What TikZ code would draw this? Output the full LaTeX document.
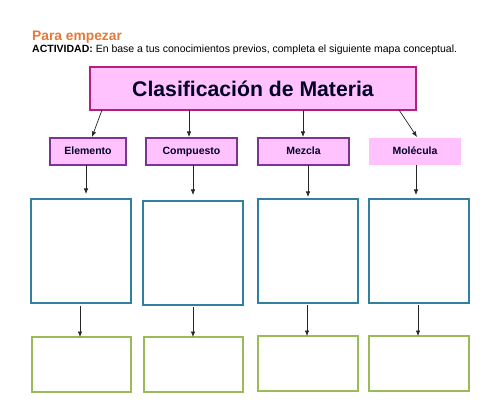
\documentclass[tikz,border=0pt]{standalone}
\usepackage{fontspec}
\setmainfont{Liberation Sans}
\usetikzlibrary{arrows.meta}
\definecolor{orangeT}{HTML}{E07B39}
\definecolor{pinkF}{HTML}{FFC2FF}
\definecolor{magB}{HTML}{B3207F}
\definecolor{purB}{HTML}{7A3494}
\definecolor{blueB}{HTML}{31809F}
\definecolor{greenB}{HTML}{9BBB59}
\tikzset{
  mainbox/.style={draw=magB, fill=pinkF, line width=2pt},
  catbox/.style={draw=purB, fill=pinkF, line width=1.6pt},
  catnob/.style={fill=pinkF},
  bluebox/.style={draw=blueB, line width=2pt},
  greenbox/.style={draw=greenB, line width=2.2pt},
  arr/.style={-{Latex[length=5.5pt,width=4.5pt]}, line width=0.7pt, black!85},
  lbl/.style={font=\bfseries\fontsize{10.5}{12}\selectfont, text=black!85!blue, text height=7.5pt, text depth=2pt},
}
\begin{document}
\begin{tikzpicture}[x=1pt,y=-1pt]
\useasboundingbox (0,0) rectangle (500,419);
\node[anchor=base west, inner sep=0, text=orangeT, font=\bfseries\fontsize{13.8}{15}\selectfont] (t1) at (32,41) {Para empezar};
\node[anchor=base west, inner sep=0, font=\fontsize{10.5}{12}\selectfont] (t2) at (32,53) {\textbf{ACTIVIDAD:} En base a tus conocimientos previos, completa el siguiente mapa conceptual.};
% main box
\path[mainbox] (90,67) rectangle (416,110);
\node[font=\bfseries\fontsize{21.2}{24}\selectfont, text=black!85!blue] (main) at (253,89) {Clasificación de Materia};
\coordinate (m1) at (102,110);
\coordinate (m2) at (189,110);
\coordinate (m3) at (303,110);
\coordinate (m4) at (399,110);
% category boxes
\path[catbox] (50,138) rectangle (126,165);
\path[catbox] (146,138) rectangle (237,165);
\path[catbox] (258,138) rectangle (349,165);
\path[catnob] (369,138) rectangle (461,165);
\node[lbl] (c1) at (88,152) {Elemento};
\node[lbl] (c2) at (191.5,152) {Compuesto};
\node[lbl] (c3) at (303.5,152) {Mezcla};
\node[lbl] (c4) at (415,152) {Molécula};
\coordinate (c1t) at (92,137);
\coordinate (c2t) at (189,137);
\coordinate (c3t) at (303,137);
\coordinate (c4t) at (417,137);
\draw[arr] (m1) -- (c1t);
\draw[arr] (m2) -- (c2t);
\draw[arr] (m3) -- (c3t);
\draw[arr] (m4) -- (c4t);
% blue boxes
\path[bluebox] (31,199) rectangle (131,303);
\path[bluebox] (143,201) rectangle (243,305);
\path[bluebox] (258,199) rectangle (358,303);
\path[bluebox] (369,199) rectangle (469,303);
\coordinate (c1b) at (86,165);
\coordinate (c2b) at (193,165);
\coordinate (c3b) at (308,165);
\coordinate (c4b) at (416,165);
\coordinate (b1t) at (86,194);
\coordinate (b2t) at (193,195);
\coordinate (b3t) at (308,197);
\coordinate (b4t) at (416,195);
\draw[arr] (c1b) -- (b1t);
\draw[arr] (c2b) -- (b2t);
\draw[arr] (c3b) -- (b3t);
\draw[arr] (c4b) -- (b4t);
% green boxes
\path[greenbox] (32,337) rectangle (131,392);
\path[greenbox] (144,337) rectangle (243,392);
\path[greenbox] (258,336) rectangle (358,391);
\path[greenbox] (369,336) rectangle (469,391);
\coordinate (b1b) at (80,306);
\coordinate (b2b) at (193,307);
\coordinate (b3b) at (307,305);
\coordinate (b4b) at (418,305);
\coordinate (g1t) at (80,337);
\coordinate (g2t) at (193,337);
\coordinate (g3t) at (307,336);
\coordinate (g4t) at (418,336);
\draw[arr] (b1b) -- (g1t);
\draw[arr] (b2b) -- (g2t);
\draw[arr] (b3b) -- (g3t);
\draw[arr] (b4b) -- (g4t);
\end{tikzpicture}
\end{document}
